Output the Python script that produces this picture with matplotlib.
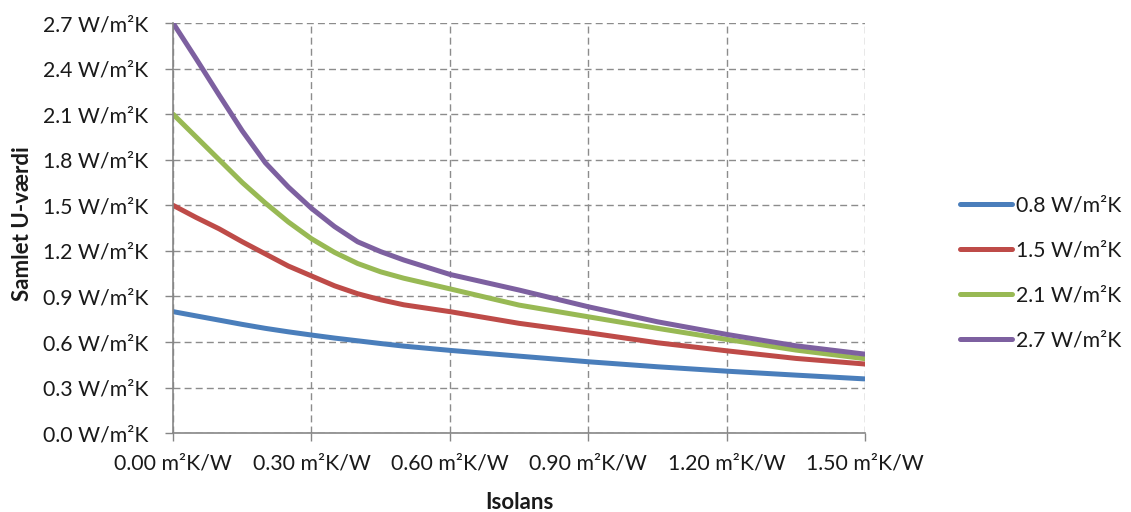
import matplotlib.pyplot as plt
from matplotlib.ticker import FixedLocator

plt.rcParams['font.family'] = ['Lato', 'DejaVu Sans']

# Isolans (m²K/W)
isolans = [0.0, 0.05, 0.1, 0.15, 0.2, 0.25, 0.3, 0.35, 0.4, 0.45, 0.5, 0.6,
           0.75, 0.9, 1.05, 1.2, 1.35, 1.5]

# Samlet U-værdi (W/m²K)
u_08 = [0.80, 0.772, 0.744, 0.716, 0.69, 0.667, 0.646, 0.626, 0.608, 0.59, 0.573, 0.545,
        0.507, 0.47, 0.437, 0.408, 0.382, 0.357]
u_15 = [1.50, 1.42, 1.345, 1.26, 1.18, 1.10, 1.035, 0.97, 0.918, 0.878, 0.845, 0.80,
        0.723, 0.661, 0.595, 0.542, 0.492, 0.455]
u_21 = [2.10, 1.95, 1.80, 1.65, 1.515, 1.39, 1.28, 1.19, 1.117, 1.062, 1.02, 0.95,
        0.843, 0.766, 0.69, 0.617, 0.547, 0.49]
u_27 = [2.70, 2.465, 2.225, 1.99, 1.78, 1.62, 1.48, 1.36, 1.26, 1.195, 1.14, 1.045,
        0.942, 0.832, 0.733, 0.65, 0.575, 0.52]

labels = ["0.8 W/m²K", "1.5 W/m²K", "2.1 W/m²K", "2.7 W/m²K"]
colors = ["#4A7EBB", "#BE4B48", "#98B954", "#7D60A0"]

x_ticks = [0.0, 0.3, 0.6, 0.9, 1.2, 1.5]
y_ticks = [0.0, 0.3, 0.6, 0.9, 1.2, 1.5, 1.8, 2.1, 2.4, 2.7]

fig = plt.figure(figsize=(11.31, 5.12), dpi=100)
ax = fig.add_axes([0.153, 0.154, 0.612, 0.801])

for ys, lab, col in zip([u_08, u_15, u_21, u_27], labels, colors):
    ax.plot(isolans, ys, color=col, lw=3.6, label=lab,
            solid_capstyle='round', solid_joinstyle='round')

ax.set_xlim(0, 1.5)
ax.set_ylim(0, 2.7)
ax.xaxis.set_major_locator(FixedLocator(x_ticks))
ax.yaxis.set_major_locator(FixedLocator(y_ticks))
ax.set_xticklabels([f"{v:.2f} m²K/W" for v in x_ticks])
ax.set_yticklabels([f"{v:.1f} W/m²K" for v in y_ticks])

txt = "#1a1a1a"
ax.tick_params(axis='both', direction='out', length=6, width=1,
               color='#868686', labelsize=15.3, labelcolor=txt)
ax.tick_params(axis='y', pad=12)
ax.tick_params(axis='x', pad=9)

ax.grid(True, color='#8c8c8c', linestyle=(0, (5, 3)), linewidth=1)
ax.set_axisbelow(True)
for side in ['top', 'right']:
    ax.spines[side].set_visible(False)
for side in ['left', 'bottom']:
    ax.spines[side].set_color('#868686')
    ax.spines[side].set_linewidth(1.2)

ax.set_xlabel("Isolans", fontsize=16, fontweight='bold', color=txt)
ax.set_ylabel("Samlet U-værdi", fontsize=16, fontweight='bold', color=txt)
ax.xaxis.set_label_coords(0.5, -0.143)
ax.yaxis.label.set_va('center')
ax.yaxis.set_label_coords(-0.217, 0.51)

leg = ax.legend(loc='center left', bbox_to_anchor=(1.137, 0.39), frameon=False,
                fontsize=15.3, handlelength=2.45, handletextpad=0.2,
                labelspacing=1.18, borderaxespad=0, borderpad=0)
for t in leg.get_texts():
    t.set_color(txt)

fig.savefig("out.png", dpi=100)
